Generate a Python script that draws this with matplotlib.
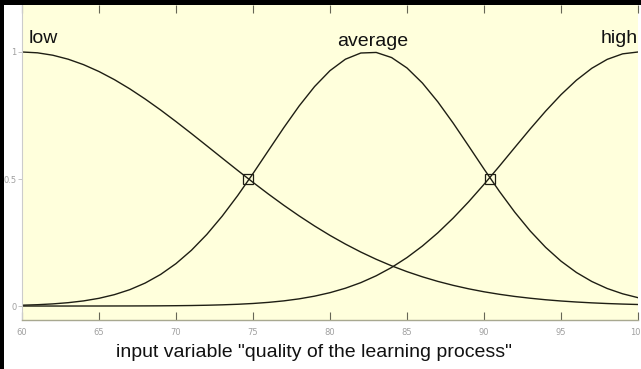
import matplotlib
matplotlib.use("Agg")
import matplotlib.pyplot as plt
from matplotlib.patches import Rectangle

# x positions (input variable) at which membership values were read
x_vals = list(range(60, 101))

low = [1.0000, 0.9968, 0.9873, 0.9716, 0.9501, 0.9231, 0.8912, 0.8549, 0.8148, 0.7717,
       0.7261, 0.6790, 0.6308, 0.5823, 0.5341, 0.4868, 0.4408, 0.3966, 0.3546, 0.3150,
       0.2780, 0.2439, 0.2125, 0.1840, 0.1583, 0.1353, 0.1150, 0.0970, 0.0814, 0.0678,
       0.0561, 0.0462, 0.0377, 0.0307, 0.0247, 0.0198, 0.0158, 0.0125, 0.0098, 0.0077,
       0.0060]

average = [0.0032, 0.0052, 0.0084, 0.0132, 0.0202, 0.0304, 0.0448, 0.0644, 0.0905, 0.1243,
           0.1670, 0.2194, 0.2818, 0.3539, 0.4344, 0.5215, 0.6120, 0.7022, 0.7878, 0.8641,
           0.9266, 0.9716, 0.9960, 0.9982, 0.9781, 0.9371, 0.8778, 0.8039, 0.7199, 0.6302,
           0.5394, 0.4514, 0.3693, 0.2955, 0.2311, 0.1767, 0.1321, 0.0966, 0.0690, 0.0482,
           0.0329]

high = [0.0000, 0.0000, 0.0000, 0.0000, 0.0001, 0.0001, 0.0002, 0.0003, 0.0005, 0.0008,
        0.0013, 0.0020, 0.0031, 0.0047, 0.0069, 0.0100, 0.0144, 0.0203, 0.0283, 0.0389,
        0.0526, 0.0701, 0.0920, 0.1191, 0.1518, 0.1908, 0.2362, 0.2881, 0.3463, 0.4102,
        0.4789, 0.5507, 0.6242, 0.6971, 0.7671, 0.8319, 0.8889, 0.9359, 0.9710, 0.9927,
        1.0000]

cross_x = [74.7, 90.4]
cross_y = [0.5, 0.5]

labels = ["low", "average", "high"]
label_x = [60.4, 82.8, 100.0]
label_y = [1.035, 1.025, 1.035]

xticks = [60, 65, 70, 75, 80, 85, 90, 95, 100]
yticks = [0, 0.5, 1]
ytick_labels = ["0", "0.5", "1"]
xlabel = 'input variable "quality of the learning process"'

W, H = 641, 369
fig = plt.figure(figsize=(W / 100, H / 100), dpi=100)
fig.patch.set_facecolor("white")

ax = fig.add_axes([22 / W, 1 - 320 / H, (638 - 22) / W, (320 - 5) / H])
ax.set_facecolor("#ffffdc")

line_color = "#1e1e14"
for series in (low, average, high):
    ax.plot(x_vals, series, color=line_color, lw=1.0, solid_joinstyle="round")
ax.plot(cross_x, cross_y, ls="none", marker="s", ms=6.5, mfc="none",
        mec=line_color, mew=0.9)

ax.set_xlim(60, 100)
ax.set_ylim(-0.055, 1.185)

ax.set_xticks(xticks)
ax.set_xticklabels([str(t) for t in xticks])
ax.set_yticks(yticks)
ax.set_yticklabels(ytick_labels)
ax.tick_params(axis="x", direction="in", length=6, width=0.8, color="#666655",
               labelsize=6, labelcolor="#a0a0a0", pad=6, top=True)
ax.tick_params(axis="y", direction="out", length=3, width=0.6, color="#bbbbbb",
               labelsize=6, labelcolor="#a0a0a0", pad=1)

for side in ("top", "right"):
    ax.spines[side].set_visible(False)
ax.spines["left"].set_color("#cccccc")
ax.spines["left"].set_linewidth(0.8)
ax.spines["bottom"].set_color("#a8a890")
ax.spines["bottom"].set_linewidth(1.0)

fam = ["Liberation Sans", "DejaVu Sans"]
ha = ["left", "center", "right"]
for t, xx, yy, h in zip(labels, label_x, label_y, ha):
    ax.text(xx, yy, t, ha=h, va="baseline", fontsize=14, family=fam,
            color="#111111", clip_on=False)

fig.text(314 / W, 1 - 357 / H, xlabel, ha="center", va="baseline",
         fontsize=14, family=fam, color="#111111")

# black frame edges on left and top of the picture
fig.patches.append(Rectangle((0, 0), 4 / W, 1, transform=fig.transFigure,
                             facecolor="black", edgecolor="none", zorder=10))
fig.patches.append(Rectangle((0, 1 - 4.5 / H), 1, 4.5 / H, transform=fig.transFigure,
                             facecolor="black", edgecolor="none", zorder=10))

fig.savefig("out.png", dpi=100)
